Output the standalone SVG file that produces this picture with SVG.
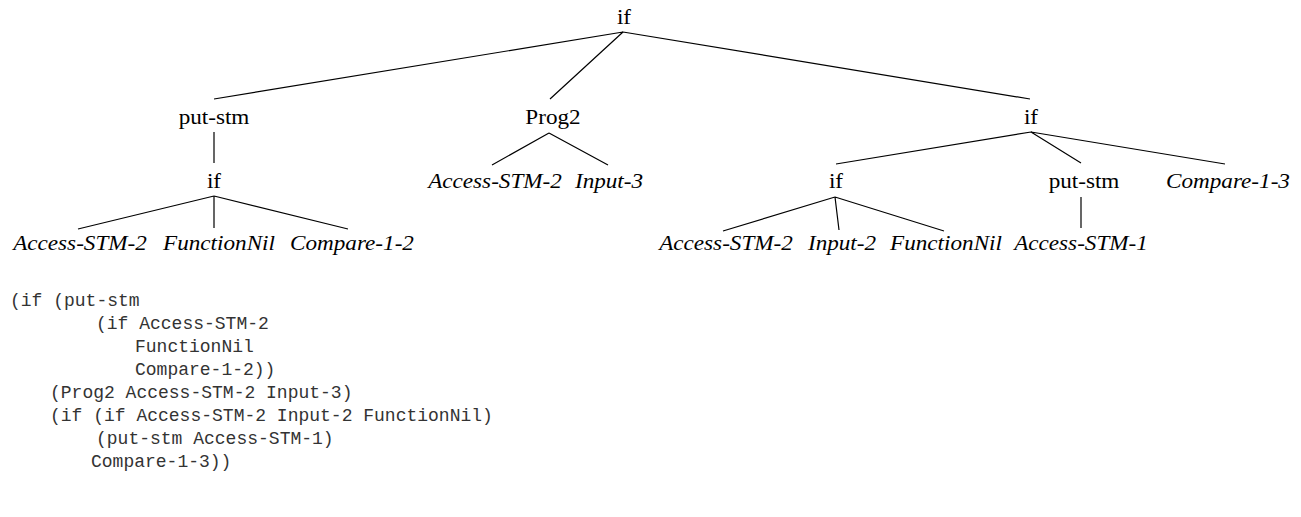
<svg xmlns="http://www.w3.org/2000/svg" width="1301" height="517" viewBox="0 0 1301 517">
<style>
.n{font-family:"Liberation Serif","Times New Roman",serif;font-size:20.5px;fill:#000;text-anchor:middle}
.l{font-family:"Liberation Serif","Times New Roman",serif;font-size:20.5px;font-style:italic;fill:#000;text-anchor:middle}
.c{font-family:"Liberation Mono","Courier New",monospace;font-size:18px;fill:#333}
.e{stroke:#000;stroke-width:1.2;fill:none}
</style>
<rect width="1301" height="517" fill="#fff"/>
<g id="connectors">
<path class="e" d="M623,32 L214,99 M623,32 L550,99 M623,32 L1030,99"/>
<path class="e" d="M214,132 L214,163"/>
<path class="e" d="M214,196 L78,229 M214,196 L214,228 M214,196 L348,229"/>
<path class="e" d="M549,133 L492,165 M549,133 L608,165"/>
<path class="e" d="M1031,132 L836,164 M1031,132 L1081,163 M1031,132 L1225,164"/>
<path class="e" d="M835,197 L723,231 M835,197 L839,230 M835,197 L944,231"/>
<path class="e" d="M1081,197 L1081,228"/>
</g>
<g id="n-root"><text class="n" transform="translate(624,24) scale(1.13,1)">if</text></g>
<g id="n-putstm1"><text class="n" transform="translate(214,124) scale(1.13,1)">put-stm</text></g>
<g id="n-prog2"><text class="n" transform="translate(553,124) scale(1.13,1)">Prog2</text></g>
<g id="n-if-r"><text class="n" transform="translate(1031,124) scale(1.13,1)">if</text></g>
<g id="n-if-l2"><text class="n" transform="translate(214,188) scale(1.13,1)">if</text></g>
<g id="n-acc-p"><text class="l" transform="translate(495,188) scale(1.13,1)">Access-STM-2</text></g>
<g id="n-in3"><text class="l" transform="translate(609,188) scale(1.13,1)">Input-3</text></g>
<g id="n-if-r2"><text class="n" transform="translate(836,188) scale(1.13,1)">if</text></g>
<g id="n-putstm2"><text class="n" transform="translate(1084,188) scale(1.13,1)">put-stm</text></g>
<g id="n-cmp13"><text class="l" transform="translate(1228,188) scale(1.13,1)">Compare-1-3</text></g>
<g id="n-acc-l"><text class="l" transform="translate(80,250) scale(1.13,1)">Access-STM-2</text></g>
<g id="n-fnil-l"><text class="l" transform="translate(219,250) scale(1.13,1)">FunctionNil</text></g>
<g id="n-cmp12"><text class="l" transform="translate(352,250) scale(1.13,1)">Compare-1-2</text></g>
<g id="n-acc-r"><text class="l" transform="translate(726,250) scale(1.13,1)">Access-STM-2</text></g>
<g id="n-in2"><text class="l" transform="translate(842,250) scale(1.13,1)">Input-2</text></g>
<g id="n-fnil-r"><text class="l" transform="translate(946,250) scale(1.13,1)">FunctionNil</text></g>
<g id="n-acc1"><text class="l" transform="translate(1081,250) scale(1.13,1)">Access-STM-1</text></g>
<g id="code">
<text class="c" x="10" y="306">(if (put-stm</text>
<text class="c" x="96" y="329">(if Access-STM-2</text>
<text class="c" x="135" y="352">FunctionNil</text>
<text class="c" x="135" y="375">Compare-1-2))</text>
<text class="c" x="50" y="398">(Prog2 Access-STM-2 Input-3)</text>
<text class="c" x="50" y="421">(if (if Access-STM-2 Input-2 FunctionNil)</text>
<text class="c" x="96" y="444">(put-stm Access-STM-1)</text>
<text class="c" x="91" y="467">Compare-1-3))</text>
</g>
</svg>
